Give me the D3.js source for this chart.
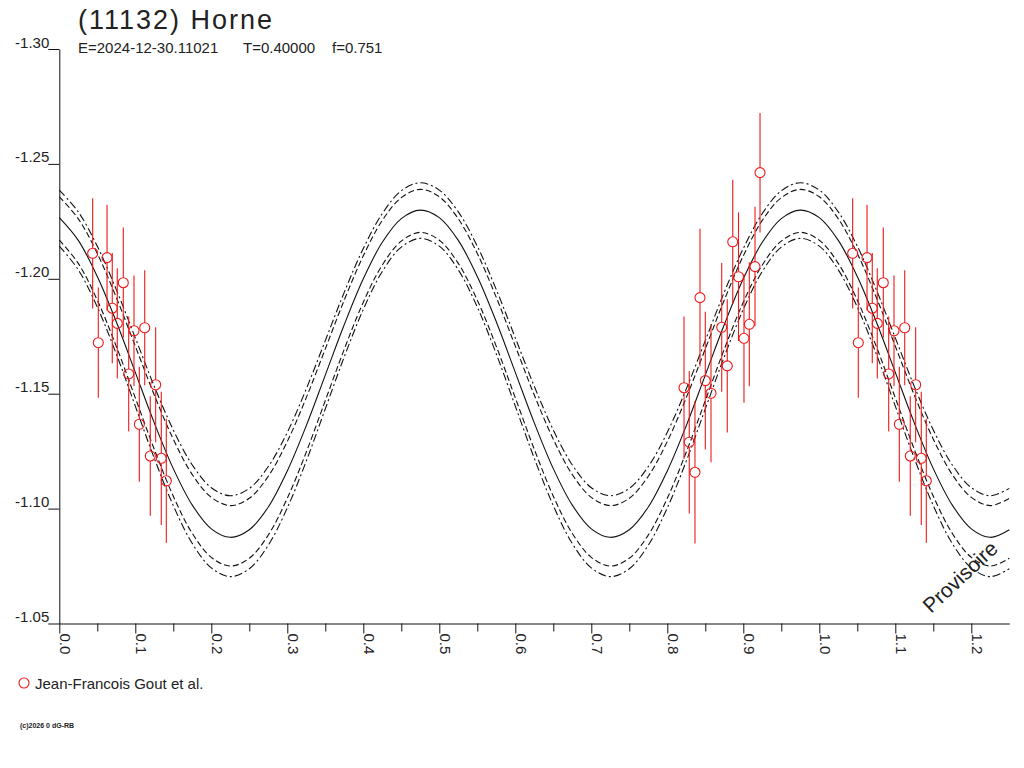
<!DOCTYPE html>
<html>
<head>
<meta charset="utf-8">
<script src="https://cdn.jsdelivr.net/npm/d3@7"></script>
<style>
  body { margin: 0; background: #fff; }
  svg text { font-family: "Liberation Sans", Arial, sans-serif; fill: #222; }
</style>
</head>
<body>
<div id="lightcurve"></div>
<script>

// texts
var title = "(11132) Horne";
var epochLabel = "E=2024-12-30.11021";
var periodLabel = "T=0.40000";
var fracLabel = "f=0.751";
var observer = "Jean-Francois Gout et al.";
var credit = "(c)2026 0 dG-RB";
var stamp = "Provisoire";

// ticks
var yTicks = [-1.30, -1.25, -1.20, -1.15, -1.10, -1.05];
var xTicks = [0.0, 0.1, 0.2, 0.3, 0.4, 0.5, 0.6, 0.7, 0.8, 0.9, 1.0, 1.1, 1.2];
var xMinorTicks = [0.05, 0.15, 0.25, 0.35, 0.45, 0.55, 0.65, 0.75, 0.85, 0.95, 1.05, 1.15];

// measurements (phase, reduced mag, error)
var obsPhase = [0.0439, 0.0513, 0.0628, 0.0697, 0.0763, 0.0842, 0.0913, 0.0983, 0.1053, 0.1124,
                0.1197, 0.1268, 0.1342, 0.1408, 0.8220, 0.8289, 0.8364, 0.8430, 0.8500, 0.8575,
                0.8716, 0.8789, 0.8861, 0.8937, 0.9009, 0.9079, 0.9154, 0.9220];
var obsMag = [-1.2111, -1.1722, -1.2092, -1.1872, -1.1806, -1.1983, -1.1586, -1.1774, -1.1367, -1.1787,
              -1.1229, -1.1539, -1.1219, -1.1121, -1.1526, -1.1289, -1.1158, -1.1918, -1.1557, -1.1502,
              -1.1789, -1.1621, -1.2161, -1.2009, -1.1741, -1.1802, -1.2053, -1.2462];
var obsErr = [0.024, 0.024, 0.023, 0.024, 0.024, 0.024, 0.025, 0.024, 0.025, 0.025,
              0.026, 0.025, 0.029, 0.027, 0.031, 0.031, 0.031, 0.030, 0.030, 0.030,
              0.028, 0.029, 0.027, 0.028, 0.028, 0.027, 0.026, 0.026];

// fitted curve and its envelopes, read every 0.025 in phase
var curvePhase = [0.000, 0.025, 0.050, 0.075, 0.100, 0.125, 0.150, 0.175, 0.200, 0.225,
                  0.250, 0.275, 0.300, 0.325, 0.350, 0.375, 0.400, 0.425, 0.450, 0.475,
                  0.500, 0.525, 0.550, 0.575, 0.600, 0.625, 0.650, 0.675, 0.700, 0.725,
                  0.750, 0.775, 0.800, 0.825, 0.850, 0.875, 0.900, 0.925, 0.950, 0.975,
                  1.000, 1.025, 1.050, 1.075, 1.100, 1.125, 1.150, 1.175, 1.200, 1.225, 1.250];
var fitMid = [-1.2266, -1.2167, -1.2010, -1.1813, -1.1593, -1.1373, -1.1174, -1.1015, -1.0912, -1.0875,
              -1.0908, -1.1007, -1.1164, -1.1361, -1.1581, -1.1801, -1.2000, -1.2159, -1.2262, -1.2299,
              -1.2266, -1.2167, -1.2010, -1.1813, -1.1593, -1.1373, -1.1174, -1.1015, -1.0912, -1.0875,
              -1.0908, -1.1007, -1.1164, -1.1361, -1.1581, -1.1801, -1.2000, -1.2159, -1.2262, -1.2299,
              -1.2266, -1.2167, -1.2010, -1.1813, -1.1593, -1.1373, -1.1174, -1.1015, -1.0912, -1.0875,
              -1.0908];
var fitUpperOuter = [-1.2386, -1.2291, -1.2142, -1.1953, -1.1743, -1.1532, -1.1342, -1.1190, -1.1091, -1.1056,
                     -1.1088, -1.1183, -1.1332, -1.1521, -1.1731, -1.1942, -1.2132, -1.2284, -1.2383, -1.2418,
                     -1.2386, -1.2291, -1.2142, -1.1953, -1.1743, -1.1532, -1.1342, -1.1190, -1.1091, -1.1056,
                     -1.1088, -1.1183, -1.1332, -1.1521, -1.1731, -1.1942, -1.2132, -1.2284, -1.2383, -1.2418,
                     -1.2386, -1.2291, -1.2142, -1.1953, -1.1743, -1.1532, -1.1342, -1.1190, -1.1091, -1.1056,
                     -1.1088];
var fitUpperInner = [-1.2357, -1.2261, -1.2110, -1.1919, -1.1707, -1.1494, -1.1302, -1.1148, -1.1049, -1.1013,
                     -1.1045, -1.1141, -1.1292, -1.1483, -1.1695, -1.1908, -1.2100, -1.2254, -1.2353, -1.2389,
                     -1.2357, -1.2261, -1.2110, -1.1919, -1.1707, -1.1494, -1.1302, -1.1148, -1.1049, -1.1013,
                     -1.1045, -1.1141, -1.1292, -1.1483, -1.1695, -1.1908, -1.2100, -1.2254, -1.2353, -1.2389,
                     -1.2357, -1.2261, -1.2110, -1.1919, -1.1707, -1.1494, -1.1302, -1.1148, -1.1049, -1.1013,
                     -1.1045];
var fitLowerInner = [-1.2168, -1.2067, -1.1907, -1.1706, -1.1482, -1.1258, -1.1054, -1.0892, -1.0788, -1.0750,
                     -1.0784, -1.0885, -1.1045, -1.1246, -1.1470, -1.1694, -1.1898, -1.2060, -1.2164, -1.2202,
                     -1.2168, -1.2067, -1.1907, -1.1706, -1.1482, -1.1258, -1.1054, -1.0892, -1.0788, -1.0750,
                     -1.0784, -1.0885, -1.1045, -1.1246, -1.1470, -1.1694, -1.1898, -1.2060, -1.2164, -1.2202,
                     -1.2168, -1.2067, -1.1907, -1.1706, -1.1482, -1.1258, -1.1054, -1.0892, -1.0788, -1.0750,
                     -1.0784];
var fitLowerOuter = [-1.2142, -1.2039, -1.1877, -1.1673, -1.1446, -1.1219, -1.1013, -1.0848, -1.0742, -1.0704,
                     -1.0738, -1.0841, -1.1003, -1.1207, -1.1434, -1.1661, -1.1867, -1.2032, -1.2138, -1.2176,
                     -1.2142, -1.2039, -1.1877, -1.1673, -1.1446, -1.1219, -1.1013, -1.0848, -1.0742, -1.0704,
                     -1.0738, -1.0841, -1.1003, -1.1207, -1.1434, -1.1661, -1.1867, -1.2032, -1.2138, -1.2176,
                     -1.2142, -1.2039, -1.1877, -1.1673, -1.1446, -1.1219, -1.1013, -1.0848, -1.0742, -1.0704,
                     -1.0738];


var w = 1024;
var h = 768;
var red = "#ee1a1a";
var r = 5;

var svg = d3.select("#lightcurve")
  .append("svg")
  .attr("width", w)
  .attr("height", h);

svg.append("rect").attr("width", w).attr("height", h).attr("fill", "#fff");

var x = d3.scaleLinear().domain([0, 1.25]).range([59.3, 1009.3]);
var y = d3.scaleLinear().domain([-1.30, -1.05]).range([49, 623.5]);

// title block
svg.append("text")
  .attr("x", 78).attr("y", 28.5)
  .style("font-size", "27px")
  .style("letter-spacing", "2px")
  .text(title);

svg.append("text").attr("x", 78).attr("y", 53).style("font-size", "15px").text(epochLabel);
svg.append("text").attr("x", 243).attr("y", 53).style("font-size", "15px").text(periodLabel);
svg.append("text").attr("x", 332).attr("y", 53).style("font-size", "15px").text(fracLabel);

// fit curves
var line = d3.line()
  .x(function(d){ return x(d[0]); })
  .y(function(d){ return y(d[1]); })
  .curve(d3.curveCatmullRom);

var fits = [
  {values: fitUpperOuter, dash: "8,3,2,3"},
  {values: fitUpperInner, dash: "6,3"},
  {values: fitMid, dash: null},
  {values: fitLowerInner, dash: "6,3"},
  {values: fitLowerOuter, dash: "8,3,2,3"}
];

fits.forEach(function(f){
  svg.append("path")
    .datum(d3.zip(curvePhase, f.values))
    .attr("d", line)
    .attr("fill", "none")
    .attr("stroke", "#111")
    .attr("stroke-width", 1.1)
    .attr("stroke-dasharray", f.dash);
});

// measurements, repeated one cycle later when still in the window
var points = [];
for (var i = 0; i < obsPhase.length; i++) {
  points.push({p: obsPhase[i], m: obsMag[i], e: obsErr[i]});
  if (obsPhase[i] + 1 <= 1.25) {
    points.push({p: obsPhase[i] + 1, m: obsMag[i], e: obsErr[i]});
  }
}

var obs = svg.append("g").attr("class", "obs");

obs.selectAll("line.up")
  .data(points).enter().append("line")
  .attr("class", "up")
  .attr("x1", function(d){ return x(d.p); })
  .attr("x2", function(d){ return x(d.p); })
  .attr("y1", function(d){ return y(d.m - d.e); })
  .attr("y2", function(d){ return y(d.m) - r; })
  .attr("stroke", red).attr("stroke-width", 1.1);

obs.selectAll("line.down")
  .data(points).enter().append("line")
  .attr("class", "down")
  .attr("x1", function(d){ return x(d.p); })
  .attr("x2", function(d){ return x(d.p); })
  .attr("y1", function(d){ return y(d.m) + r; })
  .attr("y2", function(d){ return y(d.m + d.e); })
  .attr("stroke", red).attr("stroke-width", 1.1);

obs.selectAll("circle")
  .data(points).enter().append("circle")
  .attr("cx", function(d){ return x(d.p); })
  .attr("cy", function(d){ return y(d.m); })
  .attr("r", r)
  .attr("fill", "none")
  .attr("stroke", red)
  .attr("stroke-width", 1.1);

// axes
var xAxis = svg.append("g")
  .attr("transform", "translate(0," + y(-1.05) + ")")
  .call(d3.axisBottom(x).tickValues(xTicks).tickSize(10).tickSizeOuter(0)
        .tickFormat(function(d){ return d.toFixed(1); }));
xAxis.selectAll("text")
  .attr("x", 10).attr("y", 0).attr("dy", 0)
  .attr("transform", "rotate(90)")
  .style("text-anchor", "start")
  .style("font-size", "15px");

svg.append("g")
  .attr("transform", "translate(0," + y(-1.05) + ")")
  .call(d3.axisBottom(x).tickValues(xMinorTicks).tickSize(8).tickSizeOuter(0).tickFormat(""))
  .select(".domain").remove();

var yAxis = svg.append("g")
  .attr("transform", "translate(" + x(0) + ",0)")
  .call(d3.axisLeft(y).tickValues(yTicks).tickSize(11).tickSizeOuter(0)
        .tickFormat(function(d){ return d.toFixed(2); }));
yAxis.selectAll("text")
  .attr("x", -10).attr("y", -2).attr("dy", 0)
  .style("font-size", "15px");

svg.selectAll(".domain, .tick line").attr("stroke", "#111");

// legend
svg.append("circle")
  .attr("cx", 24).attr("cy", 683).attr("r", r)
  .attr("fill", "none").attr("stroke", red).attr("stroke-width", 1.1);
svg.append("text")
  .attr("x", 35).attr("y", 688.5)
  .style("font-size", "15px")
  .text(observer);

svg.append("text")
  .attr("x", 20).attr("y", 728)
  .style("font-size", "7px")
  .style("font-weight", "bold")
  .text(credit);

// stamp
svg.append("text")
  .attr("transform", "translate(931,614) rotate(-43)")
  .style("font-size", "21px")
  .text(stamp);

</script>
</body>
</html>
